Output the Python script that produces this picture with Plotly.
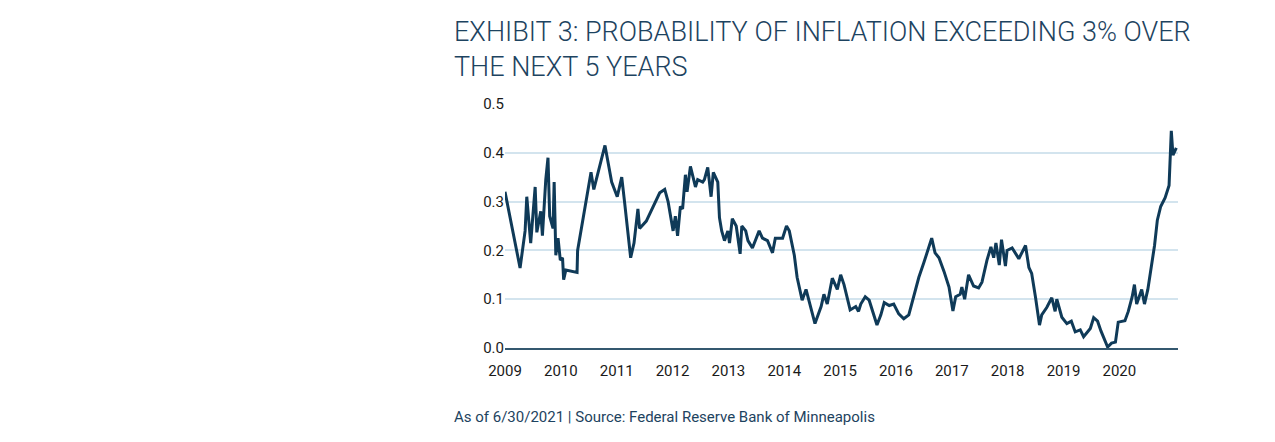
import plotly.graph_objects as go

year = [2009.00,2009.27,2009.36,2009.39,2009.46,2009.54,2009.57,2009.64,2009.67,2009.73,2009.77,2009.80,2009.86,2009.88,2009.91,2009.95,2009.99,2010.03,2010.05,2010.09,2010.29,2010.30,2010.54,2010.59,2010.79,2010.91,2011.01,2011.09,2011.14,2011.25,2011.31,2011.38,2011.41,2011.53,2011.77,2011.86,2011.92,2011.98,2012.01,2012.05,2012.09,2012.14,2012.18,2012.23,2012.26,2012.32,2012.41,2012.45,2012.54,2012.57,2012.63,2012.69,2012.73,2012.81,2012.84,2012.88,2012.93,2012.99,2013.02,2013.07,2013.14,2013.21,2013.24,2013.31,2013.35,2013.43,2013.55,2013.61,2013.70,2013.79,2013.84,2013.97,2014.04,2014.09,2014.18,2014.23,2014.32,2014.39,2014.48,2014.55,2014.66,2014.71,2014.77,2014.86,2014.95,2015.01,2015.07,2015.18,2015.28,2015.33,2015.37,2015.45,2015.52,2015.58,2015.66,2015.73,2015.79,2015.88,2015.96,2016.05,2016.14,2016.23,2016.32,2016.41,2016.50,2016.59,2016.64,2016.70,2016.77,2016.86,2016.95,2017.02,2017.07,2017.15,2017.18,2017.23,2017.30,2017.39,2017.48,2017.54,2017.63,2017.70,2017.75,2017.79,2017.85,2017.89,2017.96,2017.99,2018.08,2018.20,2018.32,2018.38,2018.43,2018.50,2018.57,2018.61,2018.70,2018.79,2018.85,2018.88,2018.97,2019.06,2019.14,2019.21,2019.30,2019.36,2019.48,2019.54,2019.61,2019.67,2019.79,2019.86,2019.93,2019.98,2020.10,2020.16,2020.23,2020.27,2020.31,2020.40,2020.45,2020.51,2020.57,2020.63,2020.68,2020.74,2020.82,2020.89,2020.93,2020.96,2021.02]
prob = [0.320,0.164,0.240,0.310,0.215,0.330,0.237,0.280,0.230,0.345,0.390,0.270,0.245,0.340,0.190,0.225,0.180,0.185,0.140,0.160,0.155,0.200,0.360,0.325,0.415,0.340,0.310,0.350,0.300,0.185,0.215,0.285,0.245,0.260,0.318,0.325,0.300,0.262,0.240,0.270,0.230,0.290,0.285,0.355,0.320,0.372,0.330,0.345,0.340,0.345,0.370,0.310,0.360,0.340,0.267,0.240,0.220,0.240,0.215,0.265,0.250,0.193,0.250,0.240,0.220,0.205,0.240,0.225,0.220,0.195,0.225,0.225,0.250,0.240,0.190,0.145,0.098,0.120,0.080,0.050,0.085,0.110,0.090,0.143,0.120,0.150,0.130,0.078,0.085,0.075,0.090,0.105,0.098,0.075,0.047,0.068,0.093,0.087,0.090,0.070,0.060,0.068,0.108,0.145,0.175,0.205,0.225,0.195,0.185,0.157,0.125,0.076,0.105,0.110,0.125,0.100,0.150,0.127,0.123,0.135,0.180,0.207,0.185,0.215,0.170,0.222,0.168,0.200,0.205,0.183,0.210,0.165,0.153,0.103,0.047,0.068,0.083,0.103,0.075,0.100,0.063,0.050,0.055,0.033,0.037,0.023,0.040,0.062,0.055,0.035,0.002,0.010,0.012,0.053,0.056,0.075,0.105,0.130,0.090,0.120,0.090,0.120,0.163,0.210,0.262,0.290,0.308,0.333,0.445,0.395,0.410]
tick_years = list(range(2009, 2021))

title = "EXHIBIT 3: PROBABILITY OF INFLATION EXCEEDING 3% OVER<br>THE NEXT 5 YEARS"
source = "As of 6/30/2021 | Source: Federal Reserve Bank of Minneapolis"

# page has an 8px body margin; figure is sized to fit inside the window
W, H = 1259, 426
L, R, T, B = 497, 1259 - 1170, 96, 426 - 340
pw, ph = W - L - R, H - T - B

navy = "#0f3a58"
fig = go.Figure(go.Scatter(x=year, y=prob, mode="lines",
                           line=dict(color=navy, width=3), hoverinfo="skip"))
fig.update_layout(
    width=W, height=H, plot_bgcolor="white", paper_bgcolor="white",
    margin=dict(l=L, r=R, t=T, b=B), showlegend=False,
    font=dict(family="Roboto", color="#1a1a1a", size=15),
    annotations=[
        dict(text=title, xref="paper", yref="paper", x=(444 - L) / pw,
             y=(340 - 6) / ph, xanchor="left", yanchor="top", align="left",
             showarrow=False,
             font=dict(family="Roboto", size=27, color="#1d4360", weight=300)),
        dict(text=source, xref="paper", yref="paper",
             x=(444 - L) / pw, y=(340 - 409) / ph, xanchor="left",
             yanchor="middle", showarrow=False,
             font=dict(family="Roboto", size=15, color="#1d4360"))],
)
fig.update_xaxes(range=[2009, 2021.05], tickvals=tick_years,
                 ticktext=[str(t) for t in tick_years], showgrid=False,
                 showline=True, linecolor="#34586f", linewidth=2, ticks="",
                 zeroline=False, tickfont=dict(size=15), ticklabelstandoff=8)
fig.update_yaxes(range=[0, 0.5], tickvals=[0, 0.1, 0.2, 0.3, 0.4, 0.5],
                 tickformat=".1f", gridcolor="#d3e4ee", gridwidth=1.5,
                 zeroline=False, showline=False, ticks="", ticksuffix="   ",
                 tickfont=dict(size=15))
fig.write_html("out.html")
